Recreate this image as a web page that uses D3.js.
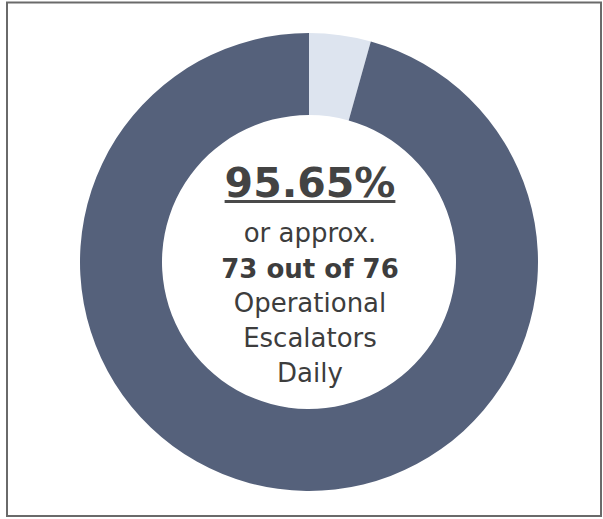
<!DOCTYPE html>
<html>
<head>
<meta charset="utf-8">
<script src="https://cdn.jsdelivr.net/npm/d3@7"></script>
<style>
  html, body { margin: 0; padding: 0; background: #fff; }
  svg { display: block; }
</style>
</head>
<body>
<svg id="chart" width="603" height="519"></svg>
<script>
// Data
const categories = ["Non-operational", "Operational"];
const values = [4.35, 95.65];
const colors = ["#dde4ef", "#55617b"];
const centerLines = ["95.65%", "or approx.", "73 out of 76", "Operational", "Escalators", "Daily"];

const svg = d3.select("#chart");

// frame
svg.append("rect")
  .attr("x", 7).attr("y", 2.5)
  .attr("width", 594).attr("height", 513.5)
  .attr("fill", "none")
  .attr("stroke", "#6a6a6a")
  .attr("stroke-width", 2);

const cx = 309, cy = 262;
const outerR = 229, innerR = 147;

const pie = d3.pie().sort(null).value(d => d.v).startAngle(0).endAngle(2 * Math.PI);
const arc = d3.arc().innerRadius(innerR).outerRadius(outerR);
const data = categories.map((c, i) => ({ c, v: values[i], col: colors[i] }));

const g = svg.append("g").attr("transform", `translate(${cx},${cy})`);
g.selectAll("path")
  .data(pie(data))
  .join("path")
  .attr("d", arc)
  .attr("fill", d => d.data.col);

// center text
const font = "'DejaVu Sans', Verdana, sans-serif";
const tg = svg.append("g");
const big = tg.append("text")
  .attr("x", cx + 1).attr("y", 197)
  .attr("text-anchor", "middle")
  .attr("font-family", font)
  .attr("font-weight", "bold")
  .attr("font-size", 41)
  .attr("fill", "#434343")
  .text(centerLines[0]);

const bb = big.node().getBBox();
tg.append("rect")
  .attr("x", bb.x).attr("y", 200)
  .attr("width", bb.width).attr("height", 3)
  .attr("fill", "#4a4a4a");

const lines = [
  { t: centerLines[1], y: 242, w: "normal" },
  { t: centerLines[2], y: 278, w: "bold" },
  { t: centerLines[3], y: 312, w: "normal" },
  { t: centerLines[4], y: 347, w: "normal" },
  { t: centerLines[5], y: 382, w: "normal" }
];
tg.selectAll("text.l")
  .data(lines)
  .join("text")
  .attr("class", "l")
  .attr("x", cx + 1)
  .attr("y", d => d.y)
  .attr("text-anchor", "middle")
  .attr("font-family", font)
  .attr("font-weight", d => d.w)
  .attr("font-size", 26)
  .attr("fill", "#3d3d3d")
  .text(d => d.t);
</script>
</body>
</html>
